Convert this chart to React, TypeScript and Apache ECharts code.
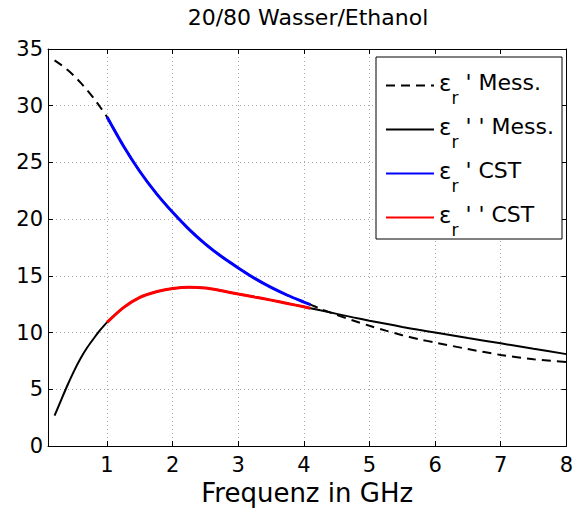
import React, { useEffect, useRef } from "react";
import * as echarts from "echarts";

const freqMess = [0.2, 0.3, 0.4, 0.5, 0.6, 0.7, 0.8, 0.9, 1.0, 1.25, 1.5, 1.75, 2.0, 2.25, 2.5, 2.75, 3.0, 3.25, 3.5, 3.75, 4.0, 4.1, 4.25, 4.5, 4.75, 5.0, 5.25, 5.5, 5.75, 6.0, 6.5, 7.0, 7.5, 8.0];
const epsRealMess = [34.0, 33.6, 33.14, 32.61, 32.01, 31.35, 30.63, 29.84, 29.0, 26.45, 24.2, 22.27, 20.6, 19.1, 17.8, 16.68, 15.7, 14.78, 13.98, 13.29, 12.69, 12.47, 12.1, 11.55, 11.07, 10.6, 10.17, 9.77, 9.42, 9.12, 8.55, 8.03, 7.65, 7.4];
const epsImagMess = [2.67, 4.05, 5.4, 6.65, 7.75, 8.7, 9.5, 10.25, 10.9, 12.2, 13.1, 13.6, 13.88, 14.0, 13.93, 13.68, 13.4, 13.13, 12.86, 12.57, 12.27, 12.15, 11.96, 11.65, 11.34, 11.05, 10.78, 10.5, 10.24, 10.0, 9.52, 9.05, 8.57, 8.1];
const freqCst = [1.0, 1.25, 1.5, 1.75, 2.0, 2.25, 2.5, 2.75, 3.0, 3.25, 3.5, 3.75, 4.0, 4.1];
const epsRealCst = [29.0, 26.45, 24.2, 22.27, 20.6, 19.1, 17.8, 16.68, 15.7, 14.78, 13.98, 13.29, 12.69, 12.47];
const epsImagCst = [10.9, 12.2, 13.1, 13.6, 13.88, 14.0, 13.93, 13.68, 13.4, 13.13, 12.86, 12.57, 12.27, 12.15];
const xTicks = [1, 2, 3, 4, 5, 6, 7, 8];
const seriesNames = ["eps1Mess", "eps2Mess", "eps1Cst", "eps2Cst"];
const legendSuffix: Record<string, string> = {
  eps1Mess: " ' Mess.",
  eps2Mess: " ' ' Mess.",
  eps1Cst: " ' CST",
  eps2Cst: " ' ' CST",
};
const titleText = "20/80 Wasser/Ethanol";
const xName = "Frequenz in GHz";

const FONT = "DejaVu Sans";

function pairs(xs: number[], ys: number[]) {
  return xs.map((x, i) => [x, ys[i]]);
}

export default function App() {
  const ref = useRef<HTMLDivElement>(null);
  useEffect(() => {
    if (!ref.current) return;
    const chart = echarts.init(ref.current, null, { renderer: "svg" });
    const gridLine = { show: true, lineStyle: { color: "#a8a8a8", width: 1, type: [1, 3] } };
    const option: any = {
      animation: false,
      backgroundColor: "#fff",
      title: {
        text: titleText,
        left: 308,
        textAlign: "center",
        top: 6,
        padding: 0,
        textStyle: { fontFamily: FONT, fontSize: 22, fontWeight: "normal", color: "#000" },
      },
      grid: { left: 48, top: 49, width: 521, height: 397, containLabel: false },
      xAxis: [
        {
          type: "value",
          position: "bottom",
          min: 0.1,
          max: 8,
          name: xName,
          nameLocation: "middle",
          nameGap: 21,
          nameTextStyle: { fontFamily: FONT, fontSize: 26, color: "#000" },
          axisLine: { show: true, onZero: false, lineStyle: { color: "#000", width: 1 } },
          axisTick: { show: true, inside: true, length: 5, customValues: xTicks, lineStyle: { color: "#000" } },
          axisLabel: { show: true, customValues: xTicks, margin: 8, fontFamily: FONT, fontSize: 21, color: "#000" },
          splitLine: gridLine,
        },
        {
          type: "value",
          position: "top",
          min: 0.1,
          max: 8,
          axisLine: { show: true, onZero: false, lineStyle: { color: "#000", width: 1 } },
          axisTick: { show: true, inside: true, length: 5, customValues: xTicks, lineStyle: { color: "#000" } },
          axisLabel: { show: false },
          splitLine: { show: false },
        },
      ],
      yAxis: [
        {
          type: "value",
          position: "left",
          min: 0,
          max: 35,
          interval: 5,
          axisLine: { show: true, onZero: false, lineStyle: { color: "#000", width: 1 } },
          axisTick: { show: true, inside: true, length: 5, lineStyle: { color: "#000" } },
          axisLabel: { show: true, margin: 5, fontFamily: FONT, fontSize: 21, color: "#000" },
          splitLine: gridLine,
        },
        {
          type: "value",
          position: "right",
          min: 0,
          max: 35,
          interval: 5,
          axisLine: { show: true, onZero: false, lineStyle: { color: "#000", width: 1 } },
          axisTick: { show: true, inside: true, length: 5, lineStyle: { color: "#000" } },
          axisLabel: { show: false },
          splitLine: { show: false },
        },
      ],
      legend: {
        orient: "vertical",
        left: 385,
        top: 71,
        padding: 0,
        itemGap: 9,
        itemWidth: 48,
        itemHeight: 14,
        data: seriesNames,
        selectedMode: false,
        z: 5,
        itemStyle: { color: "rgba(0,0,0,0)", borderColor: "rgba(0,0,0,0)", borderWidth: 0, opacity: 0 },
        formatter: (name: string) => `{e|ε}{s|r}{t|${legendSuffix[name]}}`,
        textStyle: {
          fontFamily: FONT,
          fontSize: 22,
          color: "#000",
          rich: {
            e: { fontFamily: FONT, fontSize: 23, color: "#000", padding: [0, 0, 6, 0] },
            s: { fontFamily: FONT, fontSize: 17, color: "#000", padding: [24, 0, 0, 0] },
            t: { fontFamily: FONT, fontSize: 22, color: "#000", padding: [0, 0, 6, 0] },
          },
        },
      },
      graphic: [
        {
          type: "rect",
          z: 4,
          shape: { x: 376, y: 57, width: 186, height: 182 },
          style: { fill: "#fff", stroke: "#000", lineWidth: 1 },
        },
      ],
      series: [
        {
          name: "eps1Mess",
          type: "line",
          data: pairs(freqMess, epsRealMess),
          smooth: 0.3,
          symbol: "none",
          lineStyle: { color: "#000", width: 2, type: [9, 6] },
          itemStyle: { color: "#000" },
          z: 2,
        },
        {
          name: "eps2Mess",
          type: "line",
          data: pairs(freqMess, epsImagMess),
          smooth: 0.3,
          symbol: "none",
          lineStyle: { color: "#000", width: 2 },
          itemStyle: { color: "#000" },
          z: 2,
        },
        {
          name: "eps1Cst",
          type: "line",
          data: pairs(freqCst, epsRealCst),
          smooth: 0.3,
          symbol: "none",
          lineStyle: { color: "#0000ff", width: 3 },
          itemStyle: { color: "#0000ff" },
          z: 3,
        },
        {
          name: "eps2Cst",
          type: "line",
          data: pairs(freqCst, epsImagCst),
          smooth: 0.3,
          symbol: "none",
          lineStyle: { color: "#ff0000", width: 3 },
          itemStyle: { color: "#ff0000" },
          z: 3,
        },
      ],
    };
    chart.setOption(option);
    return () => chart.dispose();
  }, []);
  return <div ref={ref} style={{ width: 576, height: 511, position: "absolute", left: 0, top: 0 }} />;
}
